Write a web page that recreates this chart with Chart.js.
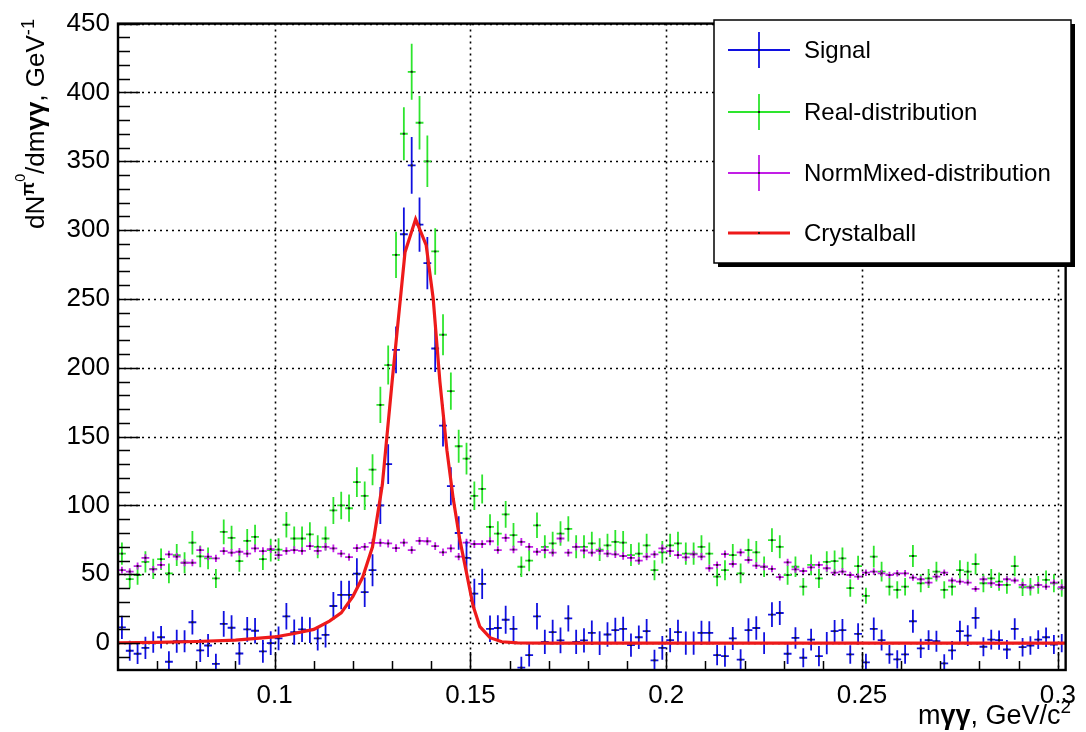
<!DOCTYPE html>
<html>
<head>
<meta charset="utf-8">
<title>pi0 invariant mass</title>
<script src="https://cdn.jsdelivr.net/npm/chart.js@4.4.1/dist/chart.umd.min.js"></script>
<style>
  html, body { margin: 0; padding: 0; background: #fff; }
  #wrap { width: 1086px; height: 732px; }
</style>
</head>
<body>
<div id="wrap"><canvas id="massChart" width="1086" height="732"></canvas></div>
<script>
// histogram binning (GeV/c^2)
const BIN_LO = 0.06;
const BIN_WIDTH = 0.002;
const N_BINS = 121;
const binCenters = Array.from({ length: N_BINS }, (_, i) => +(BIN_LO + BIN_WIDTH * (i + 0.5)).toFixed(4));

// Signal = Real - NormMixed
const signalValues = [
  11.5, -5.5, -7.7, -3.4, 0.7, 4.3, -13.5, 1.4, 1.4, 15.2,
  -5.3, -1.7, -15, 14, 11.2, -7.5, 10, 9, -6, 0,
  3.5, 19.5, 8, 10, 9.5, 3.4, 6, 27, 35, 35,
  50.5, 37, 53, 100, 130, 213, 297, 347, 304, 276,
  214, 158, 114, 80, 62, 36, 43, 10.4, 11, 17,
  10.4, -17.8, -8.7, 19.5, 1, 8, 2, 18, 1, 2,
  7.5, 0, 6.3, 9.4, 10.3, -1.4, 4.3, 8.7, -12.5, -3.4,
  2.2, 8, 0, 0, 7.5, 7.5, -8.7, -9.4, 3.4, -12,
  9.4, 11, 0, 20.7, 21.9, -7.7, 3.8, -10.6, 2.6, -9.4,
  0, 8.7, 9.4, -8.2, 6.7, -14, 10.3, 2.2, -8.2, -11.8,
  -8.2, 15.9, -3.8, 2.2, 1.4, -14.7, -5.3, 8.7, 5.5, 18.3,
  -2.6, 2.6, 2.2, -4.6, 10.3, -2.9, -1.7, 2.6, 4.3, -1,
  0
];

const realValues = [
  65, 46.5, 49.5, 59, 54, 61, 50.7, 64, 58.4, 73,
  63, 61.6, 47, 80.8, 76.5, 59.6, 74.3, 77.2, 61, 67.6,
  68, 86, 76, 76, 79, 70, 76, 96.4, 100, 98,
  117, 107, 126, 173, 202, 282, 370, 415, 378, 350,
  284.5, 224, 183, 143, 134, 107, 112, 84.4, 79.6, 93.5,
  78.4, 55.5, 60, 85.6, 70, 72.4, 79.6, 83, 70, 70,
  72.4, 68, 71, 73.6, 73, 64, 65, 71, 53, 66,
  71, 72.4, 65, 65, 70, 65, 48.3, 53, 64, 50.7,
  67.6, 66, 55.5, 74.8, 70, 49.5, 55.5, 41, 56.8, 47,
  59, 59.6, 61.6, 40, 56, 34.4, 62.8, 52, 41, 38.7,
  41, 63.3, 43.5, 47, 52, 38.7, 41, 53, 52, 57.5,
  43.5, 47, 44.7, 42.3, 56, 40.6, 41, 42.3, 46, 43.5,
  40
];

const mixedValues = [
  53, 52, 56, 62, 53.6, 56.8, 64.5, 62.8, 58.4, 58.4,
  67.6, 62.8, 61.6, 66.9, 65.7, 66.4, 65, 68.8, 66.9, 68.3,
  64, 67, 67.6, 67, 70.5, 67, 70, 68.8, 65, 62.5,
  69, 70, 72.9, 72.9, 72.4, 69, 73, 67.6, 74.3, 74,
  70.5, 66, 68.8, 62.8, 73, 72, 72, 74, 67.6, 76.5,
  68, 73.6, 70, 66.4, 67.6, 65.7, 76, 65.7, 70, 67.3,
  65.7, 67, 65, 64.5, 63.3, 62, 60, 62.8, 64.5, 68.8,
  66.9, 64, 62.3, 64.5, 62.8, 54.4, 56.8, 64.7, 57.5, 65.9,
  60.4, 56.3, 55.5, 53.9, 47.9, 58.7, 53.6, 52.4, 55, 56.8,
  54.4, 51.2, 52, 49.5, 48.3, 51.2, 52, 50.7, 49.5, 50.7,
  50.7, 47.6, 46.4, 44, 48.3, 51.2, 45.5, 44.7, 44, 39.4,
  46.4, 43.5, 42.3, 46.4, 45.5, 42.3, 40.4, 42.3, 41, 44,
  40.6
];

// Crystal Ball fit
const fitX = [0.060, 0.070, 0.080, 0.090, 0.100, 0.105, 0.110, 0.114, 0.117, 0.120,
  0.1225, 0.125, 0.1275, 0.130, 0.1333, 0.136, 0.1387, 0.1405, 0.1422, 0.144,
  0.1456, 0.1473, 0.149, 0.1507, 0.1524, 0.155, 0.158, 0.162, 0.170, 0.302];
const fitY = [0.3, 0.6, 1.2, 2.2, 4.5, 7, 10, 16, 22, 34,
  48, 70, 115, 190, 284, 308, 289, 250, 190, 140,
  105, 75, 51, 27, 12, 4, 1, 0.2, 0, 0];

// errors: Poisson on the real counts, mixed is normalised high statistics
const realErr = realValues.map(v => Math.sqrt(Math.max(v, 1)));
const mixedErr = mixedValues.map(v => Math.sqrt(v) / 3);
const signalErr = realErr.map((e, i) => Math.sqrt(e * e + mixedErr[i] * mixedErr[i]));

const xTickValues = [0.1, 0.15, 0.2, 0.25, 0.3];
const xTickLabels = ['0.1', '0.15', '0.2', '0.25', '0.3'];
const yTickValues = [0, 50, 100, 150, 200, 250, 300, 350, 400, 450];
const yTickLabels = ['0', '50', '100', '150', '200', '250', '300', '350', '400', '450'];

const legendLabels = ['Signal', 'Real-distribution', 'NormMixed-distribution', 'Crystalball'];

const X_MIN = 0.06, X_MAX = 0.302;
const Y_MIN = -19.5, Y_MAX = 450;

const FONT = '"Liberation Sans", Arial, Helvetica, sans-serif';
const COL_SIGNAL = '#1010e0';
const COL_REAL = '#2ee52e';
const COL_MIXED = '#c21ee6';
const COL_FIT = '#ee1a1a';

const toPoints = vals => vals.map((v, i) => ({ x: binCenters[i], y: v }));

// rich text: parts = [{t, sup, bold}]
function partFont(p, size) {
  const s = p.sup === 2 ? size * 0.55 : p.sup === 1 ? size * 0.7 : size;
  return (p.bold ? 'bold ' : '') + s.toFixed(1) + 'px ' + FONT;
}
function richWidth(ctx, parts, size) {
  let w = 0;
  parts.forEach(p => { ctx.font = partFont(p, size); w += ctx.measureText(p.t).width; });
  return w;
}
function drawRich(ctx, parts, size, x, y) {
  let cx = x;
  ctx.textBaseline = 'alphabetic';
  ctx.textAlign = 'left';
  parts.forEach(p => {
    ctx.font = partFont(p, size);
    const dy = p.sup === 2 ? size * 0.72 : p.sup === 1 ? size * 0.4 : 0;
    ctx.fillText(p.t, cx, y - dy);
    cx += ctx.measureText(p.t).width;
  });
}

const yTitle = [
  { t: 'dN' }, { t: '\u03c0', sup: 1, bold: true }, { t: '0', sup: 2 },
  { t: '/dm' }, { t: '\u03b3\u03b3', bold: true }, { t: ', GeV' }, { t: '-1', sup: 1 }
];
const xTitle = [
  { t: 'm' }, { t: '\u03b3\u03b3', bold: true }, { t: ', GeV/c' }, { t: '2', sup: 1 }
];

const crossPlugin = {
  id: 'crosses',
  afterDatasetDraw(chart, args) {
    const ds = chart.data.datasets[args.index];
    if (!ds.errors) return;
    const { ctx, chartArea: a, scales: { x, y } } = chart;
    ctx.save();
    ctx.beginPath();
    ctx.rect(a.left, a.top, a.right - a.left, a.bottom - a.top);
    ctx.clip();
    ctx.strokeStyle = ds.borderColor;
    ctx.lineWidth = 1.8;
    ctx.beginPath();
    ds.data.forEach((p, i) => {
      const e = ds.errors[i];
      const px = x.getPixelForValue(p.x), py = y.getPixelForValue(p.y);
      ctx.moveTo(x.getPixelForValue(p.x - BIN_WIDTH / 2), py);
      ctx.lineTo(x.getPixelForValue(p.x + BIN_WIDTH / 2), py);
      ctx.moveTo(px, y.getPixelForValue(p.y - e));
      ctx.lineTo(px, y.getPixelForValue(p.y + e));
    });
    ctx.stroke();
    ctx.fillStyle = '#1a1a1a';
    ds.data.forEach(p => {
      const px = x.getPixelForValue(p.x), py = y.getPixelForValue(p.y);
      ctx.fillRect(px - 1, py - 1, 2, 2);
    });
    ctx.restore();
  }
};

const framePlugin = {
  id: 'rootFrame',
  beforeDatasetsDraw(chart) {
    const { ctx, chartArea: a, scales: { x, y } } = chart;
    ctx.save();
    ctx.strokeStyle = '#000';
    ctx.lineWidth = 1.6;
    ctx.setLineDash([2, 4]);
    ctx.beginPath();
    xTickValues.forEach(v => {
      const px = Math.round(x.getPixelForValue(v)) + 0.5;
      ctx.moveTo(px, a.top); ctx.lineTo(px, a.bottom);
    });
    yTickValues.forEach(v => {
      const py = Math.round(y.getPixelForValue(v)) + 0.5;
      ctx.moveTo(a.left, py); ctx.lineTo(a.right, py);
    });
    ctx.stroke();
    ctx.restore();
  },
  afterDatasetsDraw(chart) {
    const { ctx, chartArea: a, scales: { x, y } } = chart;
    ctx.save();
    ctx.strokeStyle = '#000';
    ctx.lineWidth = 1.5;
    ctx.beginPath();
    // x ticks every 0.01, inside the frame
    for (let k = 7; k <= 30; k++) {
      const v = k / 100;
      const major = k % 5 === 0;
      const px = Math.round(x.getPixelForValue(v)) + 0.5;
      ctx.moveTo(px, a.bottom); ctx.lineTo(px, a.bottom - (major ? 18 : 9));
    }
    // y ticks every 10
    for (let v = -10; v <= 450; v += 10) {
      const major = v % 50 === 0;
      const py = Math.round(y.getPixelForValue(v)) + 0.5;
      ctx.moveTo(a.left, py); ctx.lineTo(a.left + (major ? 22 : 12), py);
    }
    ctx.stroke();
    ctx.lineWidth = 2.4;
    ctx.strokeRect(a.left, a.top, a.right - a.left, a.bottom - a.top);
    ctx.restore();
  },
  afterDraw(chart) {
    const { ctx } = chart;
    ctx.save();
    ctx.fillStyle = '#000';
    // axis titles
    const xw = richWidth(ctx, xTitle, 27);
    drawRich(ctx, xTitle, 27, 1071 - xw, 724);
    ctx.translate(44, 19);
    ctx.rotate(-Math.PI / 2);
    const yw = richWidth(ctx, yTitle, 26);
    drawRich(ctx, yTitle, 26, -yw, 0);
    ctx.restore();

    // legend box with shadow
    const lx = 714, ly = 20, lw = 357, lh = 243;
    ctx.save();
    ctx.fillStyle = '#000';
    ctx.fillRect(lx + 4, ly + 4, lw, lh);
    ctx.fillStyle = '#fff';
    ctx.fillRect(lx, ly, lw, lh);
    ctx.strokeStyle = '#000';
    ctx.lineWidth = 1.5;
    ctx.strokeRect(lx, ly, lw, lh);
    const rows = [50, 112, 173, 233];
    const cols = [COL_SIGNAL, COL_REAL, COL_MIXED, COL_FIT];
    rows.forEach((ry, i) => {
      ctx.strokeStyle = cols[i];
      ctx.beginPath();
      if (i === 3) {
        ctx.lineWidth = 3;
        ctx.moveTo(728, ry); ctx.lineTo(790, ry);
      } else {
        ctx.lineWidth = 1.8;
        ctx.moveTo(728, ry); ctx.lineTo(790, ry);
        ctx.moveTo(759, ry - 18); ctx.lineTo(759, ry + 18);
      }
      ctx.stroke();
      ctx.fillStyle = '#1a1a1a';
      ctx.fillRect(758, ry - 1, 2, 2);
      ctx.fillStyle = '#000';
      ctx.font = '24px ' + FONT;
      ctx.textAlign = 'left';
      ctx.textBaseline = 'middle';
      ctx.fillText(legendLabels[i], 804, ry + 1);
    });
    ctx.restore();
  }
};

new Chart(document.getElementById('massChart'), {
  type: 'scatter',
  data: {
    datasets: [
      {
        label: legendLabels[3],
        type: 'line',
        data: fitX.map((v, i) => ({ x: v, y: fitY[i] })),
        borderColor: COL_FIT,
        borderWidth: 3.2,
        pointRadius: 0,
        tension: 0,
        fill: false
      },
      {
        label: legendLabels[0],
        data: toPoints(signalValues),
        errors: signalErr,
        borderColor: COL_SIGNAL,
        backgroundColor: COL_SIGNAL,
        pointRadius: 0,
        showLine: false
      },
      {
        label: legendLabels[2],
        data: toPoints(mixedValues),
        errors: mixedErr,
        borderColor: COL_MIXED,
        backgroundColor: COL_MIXED,
        pointRadius: 0,
        showLine: false
      },
      {
        label: legendLabels[1],
        data: toPoints(realValues),
        errors: realErr,
        borderColor: COL_REAL,
        backgroundColor: COL_REAL,
        pointRadius: 0,
        showLine: false
      }
    ]
  },
  options: {
    responsive: false,
    animation: false,
    layout: { padding: { top: 20, right: 14, left: 0, bottom: 0 } },
    plugins: {
      legend: { display: false },
      tooltip: { enabled: false },
      title: { display: false }
    },
    scales: {
      x: {
        type: 'linear',
        min: X_MIN,
        max: X_MAX,
        grid: { display: false, drawTicks: false },
        border: { display: false },
        ticks: {
          padding: 10,
          color: '#000',
          maxRotation: 0,
          autoSkip: false,
          font: { size: 26, family: FONT },
          callback: (v, i) => xTickLabels[i]
        },
        afterBuildTicks: s => { s.ticks = xTickValues.map(v => ({ value: v })); },
        afterFit: s => { s.height = 62; }
      },
      y: {
        type: 'linear',
        min: Y_MIN,
        max: Y_MAX,
        grid: { display: false, drawTicks: false },
        border: { display: false },
        ticks: {
          padding: 8,
          color: '#000',
          autoSkip: false,
          font: { size: 26, family: FONT },
          callback: (v, i) => yTickLabels[i]
        },
        afterBuildTicks: s => { s.ticks = yTickValues.map(v => ({ value: v })); },
        afterFit: s => { s.width = 118; }
      }
    }
  },
  plugins: [crossPlugin, framePlugin]
});
</script>
</body>
</html>
